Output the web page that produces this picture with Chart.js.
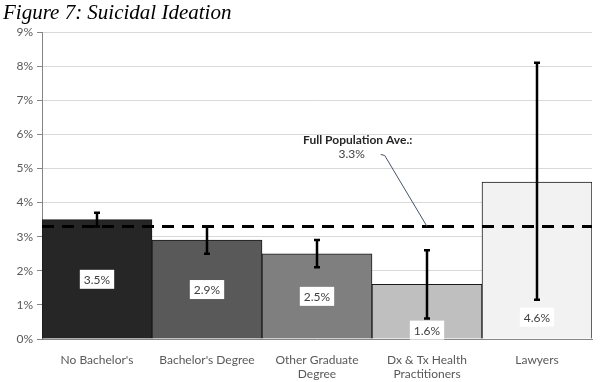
<!DOCTYPE html>
<html>
<head>
<meta charset="utf-8">
<script src="https://cdn.jsdelivr.net/npm/chart.js@4/dist/chart.umd.min.js"></script>
<style>
  html, body { margin: 0; padding: 0; background: #fff; }
  #wrap { width: 615px; height: 382px; }
</style>
</head>
<body>
<div id="wrap"><canvas id="chart" width="615" height="382"></canvas></div>
<script>
// data
const categories = [["No Bachelor's"], ["Bachelor's Degree"], ["Other Graduate", "Degree"], ["Dx & Tx Health", "Practitioners"], ["Lawyers"]];
const values = [3.5, 2.9, 2.5, 1.6, 4.6];
const errLow = [3.3, 2.5, 2.1, 0.6, 1.15];
const errHigh = [3.7, 3.3, 2.9, 2.6, 8.1];
const populationAverage = 3.3;
const yTickMax = 9;
const yTickStep = 1;
const barColors = ['#262626', '#595959', '#7f7f7f', '#bfbfbf', '#f2f2f2'];

const FONT = 'Lato, "Open Sans", sans-serif';

// title drawn above the plot
const titlePlugin = {
    id: 'figTitle',
    afterDraw(chart) {
        const ctx = chart.ctx;
        ctx.save();
        ctx.font = 'italic 21px "Liberation Serif", serif';
        ctx.fillStyle = '#000';
        ctx.textBaseline = 'alphabetic';
        ctx.textAlign = 'left';
        ctx.fillText('Figure 7: Suicidal Ideation', 3, 19);
        ctx.restore();
    }
};

// dashed line for the full population average plus its callout
const averagePlugin = {
    id: 'averageLine',
    afterDatasetsDraw(chart) {
        const { ctx, chartArea, scales: { x, y } } = chart;
        const yPix = y.getPixelForValue(populationAverage);
        ctx.save();
        ctx.strokeStyle = '#000';
        ctx.lineWidth = 3;
        ctx.setLineDash([12, 8]);
        ctx.beginPath();
        ctx.moveTo(chartArea.left, yPix);
        ctx.lineTo(chartArea.right, yPix);
        ctx.stroke();
        ctx.setLineDash([]);

        // callout text
        const step = x.getPixelForValue(1) - x.getPixelForValue(0);
        const tx = x.getPixelForValue(2) + step * 0.37;
        const ty = y.getPixelForValue(5.82);
        ctx.fillStyle = '#262626';
        ctx.textAlign = 'center';
        ctx.textBaseline = 'middle';
        ctx.font = 'bold 12px ' + FONT;
        ctx.fillText('Full Population Ave.:', tx, ty);
        ctx.font = '12px ' + FONT;
        ctx.fillStyle = '#404040';
        ctx.fillText(populationAverage.toFixed(1) + '%', tx - 6, ty + 14);

        // leader line to the dashed line
        ctx.strokeStyle = '#44546a';
        ctx.lineWidth = 1;
        ctx.beginPath();
        ctx.moveTo(tx + 23, ty + 14);
        ctx.lineTo(tx + 27, ty + 15);
        ctx.lineTo(x.getPixelForValue(3), yPix);
        ctx.stroke();
        ctx.restore();
    }
};

// error bars and value boxes
const barExtrasPlugin = {
    id: 'barExtras',
    afterDatasetsDraw(chart, args, opts) {
        const { ctx, scales: { x, y } } = chart;
        ctx.save();
        values.forEach((v, i) => {
            const cx = x.getPixelForValue(i);
            // value label box
            const ly = y.getPixelForValue(opts.labelAt[i]);
            const text = v.toFixed(1) + '%';
            ctx.font = '12px ' + FONT;
            const w = ctx.measureText(text).width + 8;
            const h = 19;
            ctx.fillStyle = '#fff';
            ctx.fillRect(cx - w / 2, ly - h / 2, w, h);
            ctx.fillStyle = '#404040';
            ctx.textAlign = 'center';
            ctx.textBaseline = 'middle';
            ctx.fillText(text, cx, ly + 1);
        });
        values.forEach((v, i) => {
            const cx = x.getPixelForValue(i);
            const top = y.getPixelForValue(errHigh[i]);
            const bot = y.getPixelForValue(errLow[i]);
            ctx.strokeStyle = '#000';
            ctx.lineWidth = 2.5;
            ctx.beginPath();
            ctx.moveTo(cx, top);
            ctx.lineTo(cx, bot);
            ctx.moveTo(cx - 3, top);
            ctx.lineTo(cx + 3, top);
            ctx.moveTo(cx - 3, bot);
            ctx.lineTo(cx + 3, bot);
            ctx.stroke();
        });
        ctx.restore();
    }
};

const ctx = document.getElementById('chart').getContext('2d');
new Chart(ctx, {
    type: 'bar',
    data: {
        labels: categories,
        datasets: [{
            data: values,
            backgroundColor: barColors,
            borderColor: '#1a1a1a',
            borderWidth: 1,
            categoryPercentage: 1,
            barPercentage: 1
        }]
    },
    options: {
        responsive: false,
        animation: false,
        layout: { padding: { top: 32, right: 23, left: 0, bottom: 0 } },
        plugins: {
            legend: { display: false },
            tooltip: { enabled: false },
            barExtras: { labelAt: [1.75, 1.45, 1.25, 0.26, 0.64] }
        },
        scales: {
            x: {
                grid: { display: false },
                border: { display: true, color: '#868686', width: 1 },
                ticks: {
                    color: '#595959',
                    font: { family: FONT, size: 12 },
                    padding: 6,
                    maxRotation: 0,
                    autoSkip: false
                },
                afterFit(scale) { scale.height = 43; }
            },
            y: {
                min: 0,
                max: yTickMax,
                grid: { color: '#d9d9d9', tickColor: '#868686', tickLength: 5, drawTicks: true },
                border: { display: true, color: '#868686', width: 1 },
                ticks: {
                    stepSize: yTickStep,
                    color: '#595959',
                    font: { family: FONT, size: 12 },
                    padding: 4,
                    callback: v => v + '%'
                },
                afterFit(scale) { scale.width = 42; }
            }
        }
    },
    plugins: [titlePlugin, averagePlugin, barExtrasPlugin]
});
</script>
</body>
</html>
